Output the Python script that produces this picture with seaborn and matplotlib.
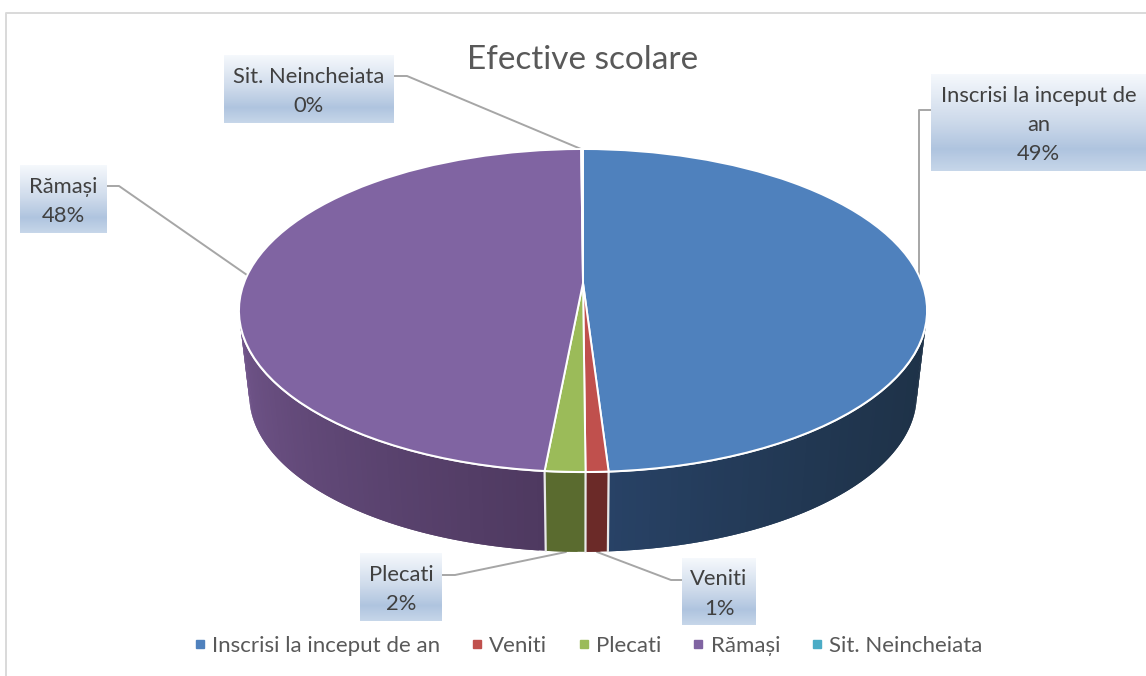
import numpy as np
import seaborn as sns
import matplotlib.pyplot as plt
from matplotlib.colors import LinearSegmentedColormap, to_rgb
from matplotlib.lines import Line2D
from matplotlib.transforms import Transform

categories = ['Inscrisi la inceput de an', 'Veniti', 'Plecati', 'Rămași', 'Sit. Neincheiata']
box_labels = ['Inscrisi la inceput de\nan', 'Veniti', 'Plecati', 'Rămași', 'Sit. Neincheiata']
values = [49.0, 0.9, 1.6, 48.4, 0.1]
title = 'Efective scolare'

sns.set_theme(style='white')
plt.rcParams['font.family'] = ['Lato', 'DejaVu Sans']

W, H = 1146, 676
TEXT = '#595959'
palette = sns.color_palette(['#4f81bd', '#c0504d', '#9bbb59', '#8064a2', '#4bacc6'])
# wall shades: colour at start and end of each slice, going clockwise, and how fast it changes
wall_shades = [('#1e3248', '#284266'), ('#6b2a28', '#6b2a28'), ('#5a6b2f', '#5a6b2f'),
               ('#4e3960', '#72568c'), ('#2b6070', '#2b6070')]
wall_gamma = [2, 1, 1, 1, 1]


class Tilt(Transform):
    # perspective view of the unit disc, output in pixels
    input_dims = 2
    output_dims = 2

    def transform_non_affine(self, xy):
        xy = np.asarray(xy)
        d = 1 + 0.1703 * xy[:, 1]
        return np.column_stack([583 + 339 * xy[:, 0] / d, (283 - 108.6 * xy[:, 1]) / d])


tilt = Tilt()


def rim(theta, lower=False):
    pts = tilt.transform(np.column_stack([np.sin(theta), np.cos(theta)]))
    if lower:
        # bottom face sits a bit lower and is slightly smaller
        pts = np.column_stack([583 + 0.97 * (pts[:, 0] - 583), 0.97 * pts[:, 1] + 94])
    return pts


fig = plt.figure(figsize=(W / 100, H / 100), dpi=100)
ax = fig.add_axes([0, 0, 1, 1])

wedges, _ = ax.pie(values, colors=palette, startangle=90, counterclock=False,
                   wedgeprops=dict(edgecolor='white', linewidth=1.4, zorder=5))
for w in wedges:
    w.set_transform(tilt + ax.transData)
ax.set_aspect('auto')
ax.set_axis_off()

# front wall of the disc, drawn from the slice angles
edges = np.radians(np.concatenate([[0], np.cumsum(values)]) * 3.6)
front0, front1 = np.radians(100), np.radians(260)
for i in range(len(values)):
    a0 = max(edges[i], front0)
    a1 = min(edges[i + 1], front1)
    if a1 <= a0:
        continue
    steps = np.linspace(a0, a1, max(2, int(np.degrees(a1 - a0)) + 1))
    c0, c1 = np.array(to_rgb(wall_shades[i][0])), np.array(to_rgb(wall_shades[i][1]))
    for k in range(len(steps) - 1):
        t = ((k + 0.5) / (len(steps) - 1)) ** wall_gamma[i]
        # each strip runs under the next one so no seams show
        th = np.linspace(steps[k], steps[min(k + 2, len(steps) - 1)], 5)
        poly = np.vstack([rim(th), rim(th[::-1], lower=True)])
        ax.fill(poly[:, 0], poly[:, 1], color=c0 * (1 - t) + c1 * t, lw=0, zorder=2 + i * 0.1)
for a in edges[1:4]:
    seam = np.vstack([rim(np.array([a])), rim(np.array([a]), lower=True)])
    ax.plot(seam[:, 0], seam[:, 1], color='#e8e8e8', lw=1.6, zorder=3)
top_rim = rim(np.radians(np.linspace(107.6, 252.4, 200)))
ax.plot(top_rim[:, 0], top_rim[:, 1], color='white', lw=1.6, zorder=4)

# chart frame
ax.plot([6, 6, W], [H, 13, 13], color='#d9d9d9', lw=1.4)

ax.text(583, 60, title, ha='center', va='center', fontsize=24, color=TEXT)

# data label boxes (x0, x1, y0, y1) and their leader lines
boxes = [(931, 1146, 74, 171), (682, 756, 558, 625), (360, 442, 553, 621),
         (20, 107, 165, 233), (224, 394, 55, 123)]
leaders = [([931, 919, 919], [110, 110, 277]), ([682, 671, 597], [580, 580, 552]),
           ([442, 455, 566], [575, 575, 552]), ([107, 119, 247], [186, 186, 275]),
           ([394, 407, 581], [76, 76, 149])]
box_cmap = LinearSegmentedColormap.from_list(
    'box', [(0, '#f5f8fc'), (0.5, '#ccd9ea'), (0.78, '#afc4df'), (1, '#c6d6e9')])
grad = np.linspace(0, 1, 64).reshape(-1, 1)
for i in range(len(values)):
    x0, x1, y0, y1 = boxes[i]
    ax.plot(leaders[i][0], leaders[i][1], color='#a6a6a6', lw=1.4, zorder=1)
    ax.imshow(grad, cmap=box_cmap, extent=(x0, x1, y1, y0), aspect='auto', zorder=2)
    ax.text((x0 + x1) / 2, (y0 + y1) / 2 + 2.5, f'{box_labels[i]}\n{values[i]:.0f}%', ha='center',
            va='center', fontsize=15.8, color='#404040', linespacing=1.58, zorder=3)
ax.set_xlim(0, W)
ax.set_ylim(H, 0)

handles = [Line2D([], [], ls='', marker='s', ms=5.5, color=palette[i]) for i in range(len(values))]
ax.legend(handles, categories, loc='center', bbox_to_anchor=(585 / W, 1 - 646 / H), ncol=5,
          frameon=False, fontsize=16, labelcolor=TEXT, handletextpad=0.0, columnspacing=1.11,
          handlelength=1.1, borderpad=0)

fig.savefig('out.png', dpi=100)
